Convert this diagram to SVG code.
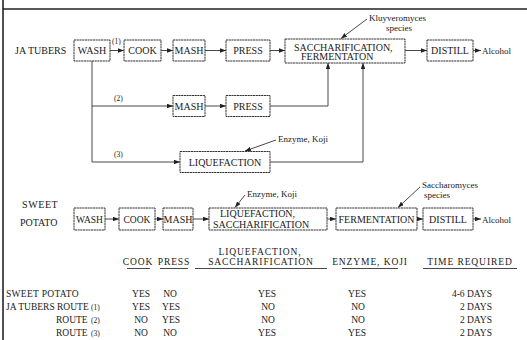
<svg xmlns="http://www.w3.org/2000/svg" width="527" height="340" viewBox="0 0 527 340" font-family="'Liberation Serif', 'Times New Roman', serif">
<defs>
<marker id="ah" viewBox="0 0 8 6" refX="8" refY="3" markerWidth="6" markerHeight="4.5" orient="auto" markerUnits="userSpaceOnUse"><path d="M0,0 L8,3 L0,6 z" fill="#222"/></marker>
</defs>
<style>
.box{fill:#fff;stroke:#333;stroke-width:1;stroke-dasharray:2.2 0.5}
text{font-family:"Liberation Serif","Times New Roman",serif;font-size:10px;fill:#1a1a1a}
.c{text-anchor:middle}
.e{text-anchor:end}
.s{font-size:7.5px}
.a{font-size:9px}
.ln{fill:none;stroke:#333;stroke-width:0.9}
.arr{marker-end:url(#ah)}
.frame{stroke:#222;stroke-width:1.6;fill:none}
.h{font-size:9.5px;letter-spacing:0.9px}
.d{font-size:9.5px}
.u{stroke:#333;stroke-width:0.9}
</style>
<rect width="527" height="340" fill="#fff"/>
<g id="frame" class="frame"><line x1="3" y1="0" x2="3" y2="340"/><line x1="3" y1="9" x2="527" y2="9"/></g>

<g id="connectors" class="ln">
<path class="arr" d="M110 50.5 H124"/>
<path class="arr" d="M161 50.5 H173"/>
<path class="arr" d="M205 50.5 H226"/>
<path class="arr" d="M270 50.5 H285"/>
<path class="arr" d="M405 50.5 H427"/>
<path class="arr" d="M473 50.5 H481"/>
<path class="arr" d="M92 61 V162 H180"/>
<path class="arr" d="M92 106 H173"/>
<path class="arr" d="M205 106 H226"/>
<path class="arr" d="M270 106 H328 V63"/>
<path class="arr" d="M270 162 H363 V63"/>
<path class="arr" d="M367 19 L341 38.5"/>
<path class="arr" d="M276 140 L245 151"/>
<path class="arr" d="M245 195 L235 207.5"/>
<path class="arr" d="M420 187 L398 207.5"/>
<path class="arr" d="M105 219 H119"/>
<path class="arr" d="M155 219 H163"/>
<path class="arr" d="M193 219 H209"/>
<path class="arr" d="M327 219 H336"/>
<path class="arr" d="M417 219 H423"/>
<path class="arr" d="M473 219 H481"/>
</g>

<g id="labels-top">
<text x="15" y="54">JA TUBERS</text>
<text class="s" x="112" y="44">(1)</text>
<text class="s" x="114" y="101">(2)</text>
<text class="s" x="114" y="157">(3)</text>
<text class="a" x="369" y="21">Kluyveromyces</text>
<text class="a" x="386" y="31">species</text>
<text class="a" x="278" y="142">Enzyme, Koji</text>
<text class="a" x="482" y="54">Alcohol</text>
</g>

<g id="wash1"><rect class="box" x="74" y="40" width="36" height="21"/><text class="c" x="92" y="54">WASH</text></g>
<g id="cook1"><rect class="box" x="124" y="40" width="37" height="21"/><text class="c" x="142.5" y="54">COOK</text></g>
<g id="mash1"><rect class="box" x="173" y="40" width="32" height="21"/><text class="c" x="189" y="54">MASH</text></g>
<g id="press1"><rect class="box" x="226" y="40" width="44" height="21"/><text class="c" x="248" y="54">PRESS</text></g>
<g id="sacch1"><rect class="box" x="285" y="39" width="120" height="24"/><text x="294" y="50.5">SACCHARIFICATION,</text><text x="301" y="60">FERMENTATON</text></g>
<g id="distill1"><rect class="box" x="427" y="40" width="46" height="21"/><text class="c" x="450" y="54">DISTILL</text></g>
<g id="mash2"><rect class="box" x="173" y="95.5" width="32" height="21"/><text class="c" x="189" y="109.5">MASH</text></g>
<g id="press2"><rect class="box" x="226" y="95.5" width="44" height="21"/><text class="c" x="248" y="109.5">PRESS</text></g>
<g id="liq3"><rect class="box" x="180" y="151.5" width="90" height="21"/><text class="c" x="225" y="165.5">LIQUEFACTION</text></g>

<g id="labels-sweet">
<text x="22" y="207.5" letter-spacing="0.6">SWEET</text>
<text x="20" y="225.5">POTATO</text>
<text class="a" x="247" y="197">Enzyme, Koji</text>
<text class="a" x="422" y="188">Saccharomyces</text>
<text class="a" x="424" y="198">species</text>
<text class="a" x="482" y="222.5">Alcohol</text>
</g>
<g id="wash2"><rect class="box" x="74" y="208" width="31" height="22"/><text class="c d" x="89.5" y="222.5">WASH</text></g>
<g id="cook2"><rect class="box" x="119" y="208" width="36" height="22"/><text class="c d" x="137" y="222.5">COOK</text></g>
<g id="mash2s"><rect class="box" x="163" y="208" width="30" height="22"/><text class="c" x="178" y="222.5" font-size="9">MASH</text></g>
<g id="liqsacch"><rect class="box" x="209" y="208" width="118" height="22"/><text x="220" y="217">LIQUEFACTION,</text><text x="213" y="227.5">SACCHARIFICATION</text></g>
<g id="ferm"><rect class="box" x="336" y="208" width="81" height="22"/><text class="c" x="376.5" y="222.5">FERMENTATION</text></g>
<g id="distill2"><rect class="box" x="423" y="208" width="50" height="22"/><text class="c" x="448" y="222.5">DISTILL</text></g>

<g id="table">
<text class="c h" x="138" y="265">COOK</text>
<text class="c h" x="174" y="265">PRESS</text>
<text class="c h" x="260" y="255">LIQUEFACTION,</text>
<text class="c h" x="261" y="265">SACCHARIFICATION</text>
<text class="c h" x="370" y="265">ENZYME, KOJI</text>
<text class="c h" x="470" y="265">TIME REQUIRED</text>
<line class="u" x1="127" y1="268.5" x2="150" y2="268.5"/>
<line class="u" x1="160" y1="268.5" x2="188" y2="268.5"/>
<line class="u" x1="195" y1="268.5" x2="327" y2="268.5"/>
<line class="u" x1="342" y1="268.5" x2="398" y2="268.5"/>
<line class="u" x1="423" y1="268.5" x2="517" y2="268.5"/>

<text class="d" x="6" y="297" letter-spacing="0.3">SWEET POTATO</text>
<text class="d" x="6" y="310">JA TUBERS ROUTE</text><text class="s" x="91" y="310">(1)</text>
<text class="d" x="56" y="323">ROUTE</text><text class="s" x="91" y="323">(2)</text>
<text class="d" x="56" y="336">ROUTE</text><text class="s" x="91" y="336">(3)</text>

<text class="d c" x="141" y="297">YES</text><text class="d c" x="141" y="310">YES</text><text class="d c" x="141" y="323">NO</text><text class="d c" x="141" y="336">NO</text>
<text class="d c" x="170" y="297">NO</text><text class="d c" x="171" y="310">YES</text><text class="d c" x="171" y="323">YES</text><text class="d c" x="170" y="336">NO</text>
<text class="d c" x="267" y="297">YES</text><text class="d c" x="268" y="310">NO</text><text class="d c" x="268" y="323">NO</text><text class="d c" x="267" y="336">YES</text>
<text class="d c" x="357" y="297">YES</text><text class="d c" x="358" y="310">NO</text><text class="d c" x="358" y="323">NO</text><text class="d c" x="357" y="336">YES</text>
<text class="d e" x="492" y="297">4-6 DAYS</text><text class="d e" x="492" y="310">2 DAYS</text><text class="d e" x="492" y="323">2 DAYS</text><text class="d e" x="492" y="336">2 DAYS</text>
</g>
</svg>
